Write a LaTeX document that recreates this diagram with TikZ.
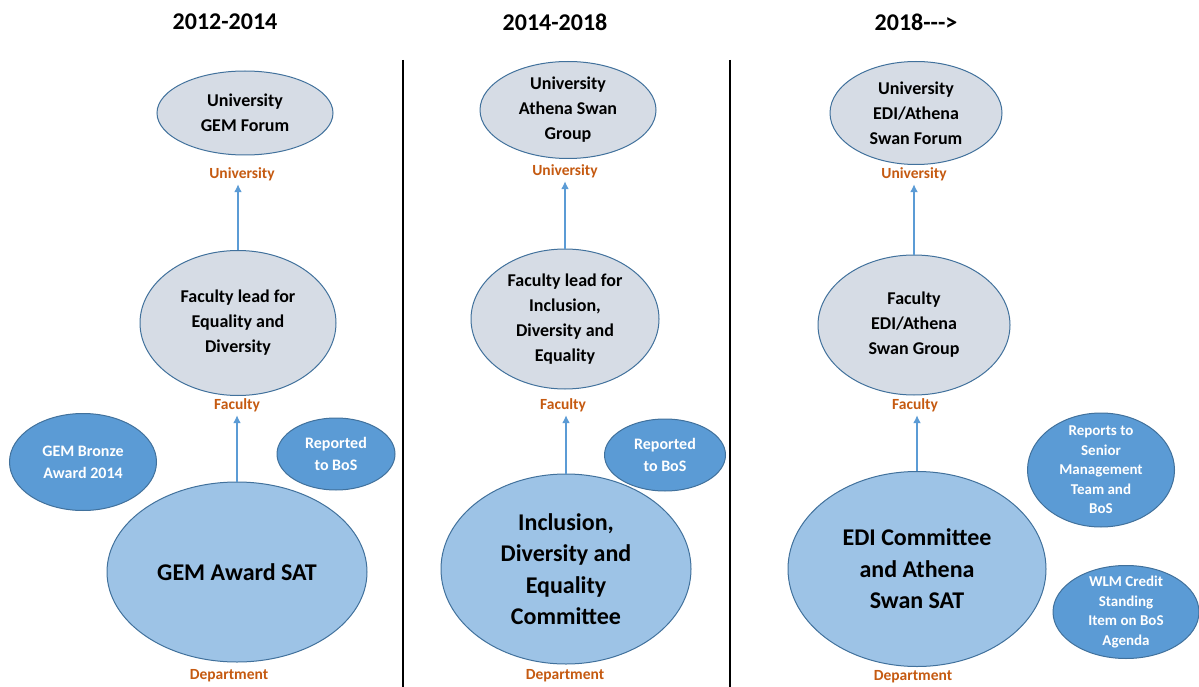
\documentclass[tikz,border=0pt]{standalone}
\usepackage{fontspec}
\setmainfont{Carlito}
\usetikzlibrary{shapes.geometric,arrows.meta}

\definecolor{bubblegrey}{HTML}{D6DCE5}
\definecolor{bubbleedge}{HTML}{41719C}
\definecolor{satblue}{HTML}{9DC3E6}
\definecolor{noteblue}{HTML}{5B9BD5}
\definecolor{levelorange}{HTML}{C55A11}

\tikzset{
  bubble/.style={ellipse, draw=bubbleedge, line width=1pt, align=center, inner sep=0pt,
    font=\bfseries\fontsize{18}{25}\selectfont},
  upper/.style={bubble, fill=bubblegrey},
  sat/.style={bubble, fill=satblue, font=\bfseries\fontsize{24}{31.5}\selectfont},
  note/.style={bubble, fill=noteblue, text=white, inner ysep=-15pt,
    font=\bfseries\fontsize{15}{19.5}\selectfont},
  bignote/.style={note, inner ysep=0pt, font=\bfseries\fontsize{16}{22}\selectfont},
  level/.style={text=levelorange, font=\bfseries\fontsize{15.5}{18}\selectfont},
  period/.style={font=\bfseries\fontsize{24}{28}\selectfont},
  up/.style={draw=noteblue, line width=2.2pt, -{Latex[length=8pt,width=8pt]}},
  divider/.style={line width=2.5pt},
}

\begin{document}
\begin{tikzpicture}[x=1pt, y=-1pt]
  \useasboundingbox (0,0) rectangle (1199,687);

  % dividers
  \draw[divider] (403,60) -- (403,687);
  \draw[divider] (730,60) -- (730,687);

  % 2012-2014
  \node[period] (p1) at (225,22) {2012-2014};
  \node[upper, minimum width=176pt, minimum height=84pt] (uni1) at (245,113) {University\\GEM Forum};
  \node[level] (unilab1) at (242,174) {University};
  \node[upper, minimum width=196pt, minimum height=145pt] (lead1) at (238,323) {Faculty lead for\\Equality and\\Diversity};
  \node[level] (faclab1) at (237,405) {Faculty};
  \node[sat, minimum width=260pt, minimum height=180pt] (sat1) at (237,572) {GEM Award SAT};
  \node[level] (deplab1) at (229,676) {Department};
  \node[bignote, minimum width=147pt, minimum height=97pt] (bronze) at (83,462) {GEM Bronze\\Award 2014};
  \node[bignote, minimum width=118pt, minimum height=72pt] (bos1) at (336,454) {Reported\\to BoS};

  \draw[up] (lead1.north) -- (lead1.north |- unilab1.south);
  \draw[up] (sat1.north) -- (sat1.north |- faclab1.south);

  % 2014-2018
  \node[period] (p2) at (555,22) {2014-2018};
  \node[upper, minimum width=176pt, minimum height=97pt] (uni2) at (568,110) {University\\Athena Swan\\Group};
  \node[level] (unilab2) at (565,171) {University};
  \node[upper, minimum width=188pt, minimum height=140pt] (lead2) at (565,319) {Faculty lead for\\Inclusion,\\Diversity and\\Equality};
  \node[level] (faclab2) at (563,405) {Faculty};
  \node[sat, minimum width=250pt, minimum height=190pt] (sat2) at (566,569) {Inclusion,\\Diversity and\\Equality\\Committee};
  \node[level] (deplab2) at (565,676) {Department};
  \node[bignote, minimum width=121pt, minimum height=72pt] (bos2) at (665,455) {Reported\\to BoS};

  \draw[up] (lead2.north) -- (lead2.north |- unilab2.south);
  \draw[up] (sat2.north) -- (sat2.north |- faclab2.south);

  % 2018 onwards
  \node[period] (p3) at (916,22) {2018-\kern0pt-\kern0pt->};
  \node[upper, minimum width=172pt, minimum height=103pt] (uni3) at (916,113) {University\\EDI/Athena\\Swan Forum};
  \node[level] (unilab3) at (914,174) {University};
  \node[upper, minimum width=192pt, minimum height=140pt] (lead3) at (914,325) {Faculty\\EDI/Athena\\Swan Group};
  \node[level] (faclab3) at (915,405) {Faculty};
  \node[sat, minimum width=258pt, minimum height=195pt] (sat3) at (917,569) {EDI Committee\\and Athena\\Swan SAT};
  \node[level] (deplab3) at (913,677) {Department};
  \node[note, minimum width=147pt, minimum height=114pt] (smt) at (1101,470) {Reports to\\Senior\\Management\\Team and\\BoS};
  \node[note, minimum width=146pt, minimum height=93pt] (wlm) at (1126,612) {WLM Credit\\Standing\\Item on BoS\\Agenda};

  \draw[up] (lead3.north) -- (lead3.north |- unilab3.south);
  \draw[up] (sat3.north) -- (sat3.north |- faclab3.south);
\end{tikzpicture}
\end{document}
